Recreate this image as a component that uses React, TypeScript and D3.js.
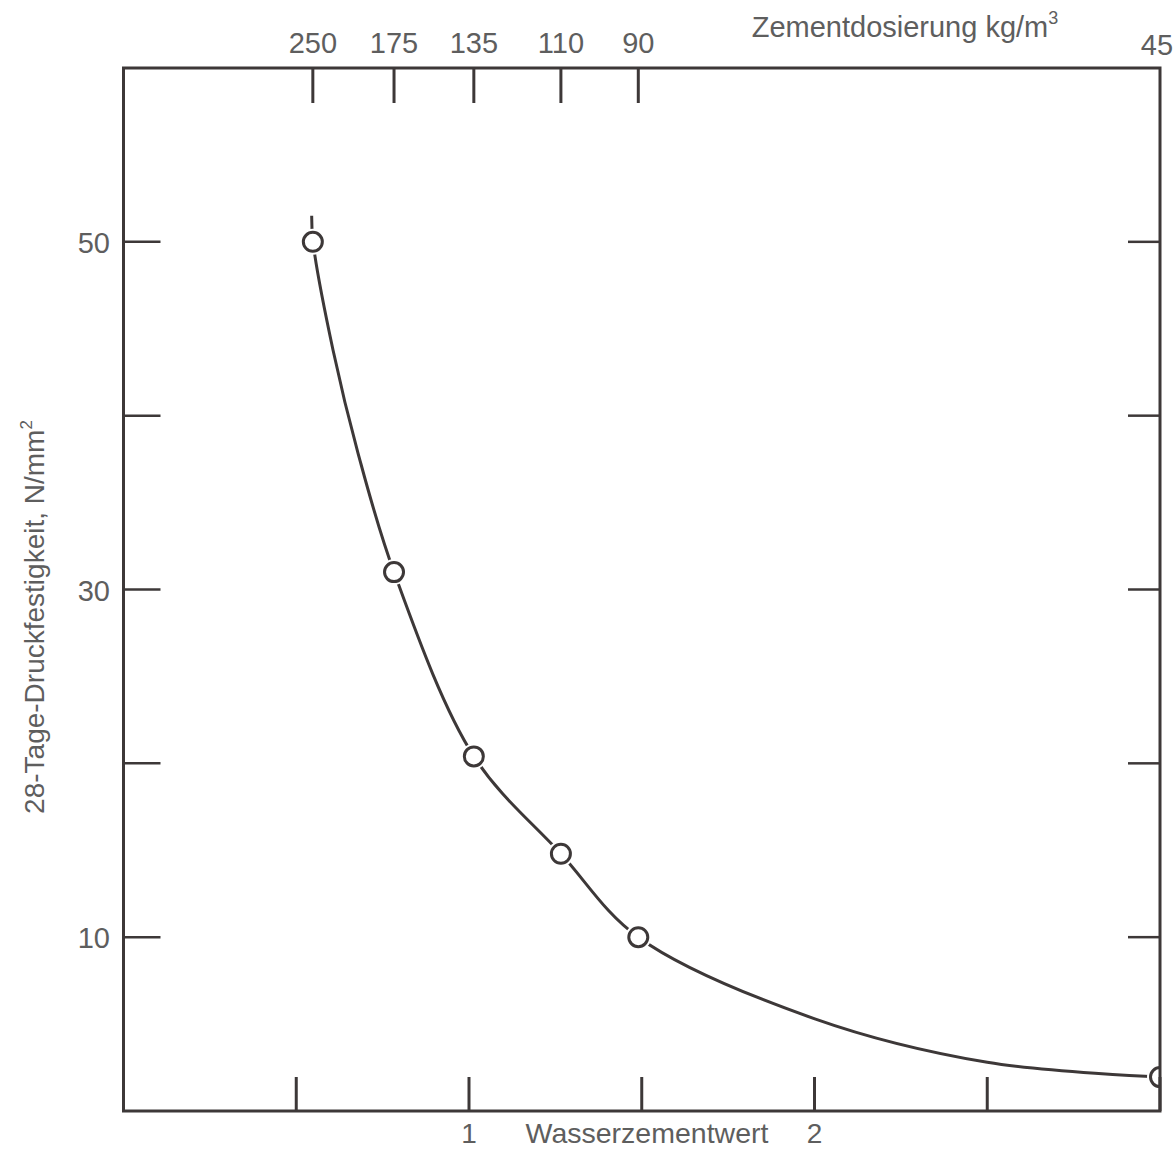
import React from "react";
import * as d3 from "d3";

// Measured points: water/cement ratio vs 28-day compressive strength
const wcRatio = [0.548, 0.783, 1.014, 1.266, 1.49, 3.0];
const strength = [50, 31, 20.4, 14.8, 10, 1.95];
// Cement dosage (top axis) at the same w/c positions
const cementDosage = [250, 175, 135, 110, 90, 45];
// Fitted curve
const curveWc = [0.5447, 0.5485, 0.6064, 0.6787, 0.783, 1.014, 1.266, 1.49, 2.001, 2.5, 3.0];
const curveStrength = [51.5, 50, 43.78, 37.85, 31, 20.4, 14.8, 10, 5.3, 2.8, 1.95];
// Axis ticks
const bottomTicks = [0.5, 1, 1.5, 2, 2.5, 3];
const bottomLabels = [1, 2];
const yTicks = [10, 20, 30, 40, 50];
const yLabels = [10, 30, 50];

const W = 1175;
const H = 1151;
const left = 123.5;
const right = 1160;
const top = 68;
const bottom = 1111;

const LINE = "#3d3838";
const TEXT = "#5e5e5e";
const FONT = "'Liberation Sans', Arial, sans-serif";

export default function App() {
  const x = d3.scaleLinear().domain([0, 3]).range([left, right]);
  const y = d3.scaleLinear().domain([0, 60]).range([bottom, top]);

  const curvePts: [number, number][] = curveWc.map((w, i) => [w, curveStrength[i]]);
  const line = d3
    .line<[number, number]>()
    .x((d) => x(d[0]))
    .y((d) => y(d[1]))
    .curve(d3.curveCatmullRom.alpha(0.5));

  const last = cementDosage.length - 1;

  return (
    <svg
      width={W}
      height={H}
      style={{ position: "absolute", left: 0, top: 0, background: "#fff" }}
      fontFamily={FONT}
    >
      <defs>
        <clipPath id="plot">
          <rect x={left} y={top} width={right - left} height={bottom - top} />
        </clipPath>
      </defs>

      {/* curve */}
      <path d={line(curvePts) || ""} fill="none" stroke={LINE} strokeWidth={3} clipPath="url(#plot)" />

      {/* points */}
      <g clipPath="url(#plot)">
        {wcRatio.map((w, i) => (
          <g key={i}>
            <circle cx={x(w)} cy={y(strength[i])} r={13} fill="#fff" />
            <circle cx={x(w)} cy={y(strength[i])} r={9.5} fill="#fff" stroke={LINE} strokeWidth={3} />
          </g>
        ))}
      </g>

      {/* frame */}
      <rect
        x={left}
        y={top}
        width={right - left}
        height={bottom - top}
        fill="none"
        stroke={LINE}
        strokeWidth={3}
      />

      {/* left / right ticks */}
      {yTicks.map((t) => (
        <g key={t}>
          <line x1={left} x2={left + 37} y1={y(t)} y2={y(t)} stroke={LINE} strokeWidth={2.5} />
          <line x1={right - 32} x2={right} y1={y(t)} y2={y(t)} stroke={LINE} strokeWidth={2.5} />
        </g>
      ))}
      {yLabels.map((t) => (
        <text key={t} x={110} y={y(t) + 11} textAnchor="end" fontSize={29} fill={TEXT}>
          {t}
        </text>
      ))}

      {/* bottom ticks */}
      {bottomTicks.map((t) => (
        <line key={t} x1={x(t)} x2={x(t)} y1={bottom} y2={bottom - 34} stroke={LINE} strokeWidth={3} />
      ))}
      {bottomLabels.map((t) => (
        <text key={t} x={x(t)} y={1143} textAnchor="middle" fontSize={28} fill={TEXT}>
          {t}
        </text>
      ))}
      <text x={647} y={1143} textAnchor="middle" fontSize={28.5} fill={TEXT}>
        Wasserzementwert
      </text>

      {/* top ticks (cement dosage) */}
      {cementDosage.map((c, i) =>
        i < last ? (
          <line
            key={c}
            x1={x(wcRatio[i])}
            x2={x(wcRatio[i])}
            y1={top}
            y2={top + 35}
            stroke={LINE}
            strokeWidth={3}
          />
        ) : null
      )}
      {cementDosage.map((c, i) => (
        <text
          key={c}
          x={i < last ? x(wcRatio[i]) : x(wcRatio[i]) - 3}
          y={i < last ? 53 : 55}
          textAnchor="middle"
          fontSize={29}
          fill={TEXT}
        >
          {c}
        </text>
      ))}
      <text x={905} y={37} textAnchor="middle" fontSize={29} fill={TEXT}>
        Zementdosierung kg/m
        <tspan fontSize={18} dy={-13}>
          3
        </tspan>
      </text>

      {/* y axis title */}
      <text
        transform={`translate(44, ${617}) rotate(-90)`}
        textAnchor="middle"
        fontSize={28}
        fill={TEXT}
      >
        28-Tage-Druckfestigkeit, N/mm
        <tspan fontSize={17} dy={-12}>
          2
        </tspan>
      </text>
    </svg>
  );
}
